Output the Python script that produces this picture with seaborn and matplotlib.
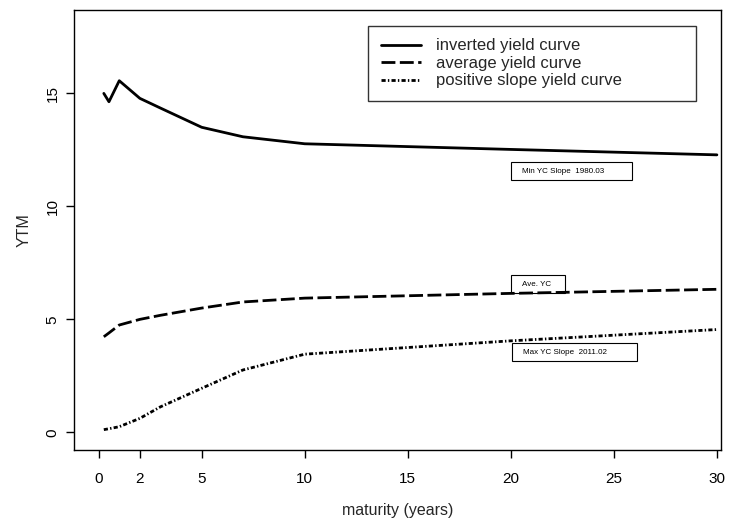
import matplotlib
matplotlib.use("Agg")
import matplotlib.pyplot as plt
import seaborn as sns
import pandas as pd
from matplotlib.patches import Rectangle
from matplotlib.lines import Line2D

maturity = [0.25, 0.5, 1, 2, 3, 5, 7, 10, 20, 30]
inverted = [15.0, 14.63, 15.56, 14.78, 14.35, 13.5, 13.08, 12.77, 12.52, 12.28]
average = [4.23, 4.4, 4.75, 5.0, 5.18, 5.5, 5.77, 5.94, 6.15, 6.33]
positive = [0.12, 0.16, 0.25, 0.62, 1.13, 1.95, 2.76, 3.46, 4.05, 4.55]

series_names = ["inverted yield curve", "average yield curve", "positive slope yield curve"]
box_labels = ["Min YC Slope  1980.03", "Ave. YC", "Max YC Slope  2011.02"]
box_x = [20.0, 20.0, 20.05]
box_y = [11.16, 6.16, 3.15]
box_w = [5.9, 2.64, 6.08]
box_h = 0.8

x_ticks = [0, 2, 5, 10, 15, 20, 25, 30]
y_ticks = [0, 5, 10, 15]

sns.set_style("white")
plt.rcParams["font.family"] = ["Liberation Sans", "DejaVu Sans"]

fig = plt.figure(figsize=(7.3, 5.18), dpi=100)
ax = fig.add_axes([0.1007, 0.1313, 0.887, 0.8494])

df = pd.DataFrame({"maturity": maturity, "inv": inverted, "avg": average, "pos": positive})

dash_styles = [None, (5, 1.6), (1.5, 0.8, 0.5, 0.8)]
for col, ds in zip(["inv", "avg", "pos"], dash_styles):
    sns.lineplot(data=df, x="maturity", y=col, color="black", linewidth=2, ax=ax)
    if ds is not None:
        ax.lines[-1].set_dashes(ds)

for lab, bx, by, bw in zip(box_labels, box_x, box_y, box_w):
    ax.add_patch(Rectangle((bx, by), bw, box_h, fill=False, edgecolor="black", linewidth=0.8))
    ax.text(bx + 0.55, by + box_h / 2, lab, fontsize=5.8, ha="left", va="center", color="black")

ax.set_xlim(-1.22, 30.2)
ax.set_ylim(-0.78, 18.69)
ax.set_xticks(x_ticks)
ax.set_yticks(y_ticks)
ax.set_xticklabels([str(t) for t in x_ticks], fontsize=11)
ax.set_yticklabels([str(t) for t in y_ticks], fontsize=11, rotation=90, va="center")
ax.tick_params(axis="both", direction="out", length=6, width=1, color="black",
               labelcolor="black", bottom=True, left=True, top=False, right=False)
ax.tick_params(axis="x", pad=10)
ax.tick_params(axis="y", pad=4)
ax.set_xlabel("maturity (years)", fontsize=11.5, labelpad=12)
ax.set_ylabel("YTM", fontsize=11.5, labelpad=10)
for s in ax.spines.values():
    s.set_visible(True)
    s.set_color("black")
    s.set_linewidth(1.0)
ax.grid(False)

handles = []
for ds in dash_styles:
    l = Line2D([0], [0], color="black", linewidth=2)
    if ds is not None:
        l.set_dashes(ds)
    handles.append(l)
leg = ax.legend(handles, series_names, loc="upper left",
                bbox_to_anchor=(0.455, 0.964, 0.507, 0.0), mode="expand",
                fontsize=12, frameon=True, fancybox=False, handlelength=2.4,
                handletextpad=0.9, labelspacing=0.15, borderpad=0.75, borderaxespad=0)
leg.get_frame().set_edgecolor("black")
leg.get_frame().set_linewidth(1.0)

fig.savefig("out.png", dpi=100)
